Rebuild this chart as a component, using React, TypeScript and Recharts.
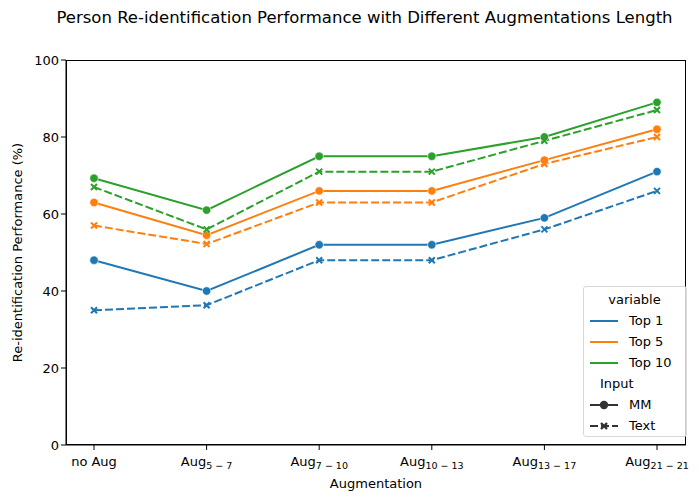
import React from "react"
import { LineChart, Line, XAxis, YAxis } from "recharts"

const categories = ["no Aug", "Aug|5 − 7", "Aug|7 − 10", "Aug|10 − 13", "Aug|13 − 17", "Aug|21 − 21"]

const top1MM = [48, 40, 52, 52, 59, 71]
const top1Text = [35, 36.3, 48, 48, 56, 66]
const top5MM = [63, 54.5, 66, 66, 74, 82]
const top5Text = [57, 52.2, 63, 63, 73, 80]
const top10MM = [69.3, 61, 75, 75, 80, 89]
const top10Text = [67, 56, 71, 71, 79, 87]

const yTicks = [0, 20, 40, 60, 80, 100]

const data = categories.map((c, i) => ({
  cat: c,
  top1MM: top1MM[i],
  top1Text: top1Text[i],
  top5MM: top5MM[i],
  top5Text: top5Text[i],
  top10MM: top10MM[i],
  top10Text: top10Text[i],
}))

const BLUE = "#1f77b4"
const ORANGE = "#ff7f0e"
const GREEN = "#2ca02c"
const FONT = "DejaVu Sans, sans-serif"

const dotCircle = (color: string) => (props: any) => {
  const { cx, cy, index } = props
  return <circle key={index} cx={cx} cy={cy} r={4.2} fill={color} stroke="white" strokeWidth={0.6} />
}

const dotX = (color: string) => (props: any) => {
  const { cx, cy, index } = props
  const s = 3
  return (
    <path
      key={index}
      d={`M${cx - s},${cy - s}L${cx + s},${cy + s}M${cx - s},${cy + s}L${cx + s},${cy - s}`}
      stroke={color}
      strokeWidth={2}
      fill="none"
    />
  )
}

const XTick = (props: any) => {
  const { x, y, payload } = props
  const [main, sub] = String(payload.value).split("|")
  return (
    <text x={x} y={y + 14} textAnchor="middle" fontSize={13} fill="#000" fontFamily={FONT}>
      <tspan>{main}</tspan>
      {sub && (
        <tspan fontSize={9.5} dy={3}>
          {sub}
        </tspan>
      )}
    </text>
  )
}

const series = [
  { key: "top1MM", color: BLUE, dash: false },
  { key: "top1Text", color: BLUE, dash: true },
  { key: "top5MM", color: ORANGE, dash: false },
  { key: "top5Text", color: ORANGE, dash: true },
  { key: "top10MM", color: GREEN, dash: false },
  { key: "top10Text", color: GREEN, dash: true },
]

function Legend() {
  const row = { display: "flex", alignItems: "center", height: 21 } as const
  const sw = (color: string) => (
    <svg width={30} height={10} style={{ marginRight: 10 }}>
      <line x1={1} y1={5} x2={29} y2={5} stroke={color} strokeWidth={2} />
    </svg>
  )
  return (
    <div
      style={{
        position: "absolute",
        left: 583,
        top: 286,
        width: 104,
        height: 151,
        border: "1px solid #d8d8d8",
        borderRadius: 3,
        background: "rgba(255,255,255,0.8)",
        fontFamily: FONT,
        fontSize: 13,
        boxSizing: "border-box",
        padding: "2px 0 0 5px",
      }}
    >
      <div style={{ ...row, justifyContent: "center", paddingRight: 6 }}>variable</div>
      <div style={row}>{sw(BLUE)}Top 1</div>
      <div style={row}>{sw(ORANGE)}Top 5</div>
      <div style={row}>{sw(GREEN)}Top 10</div>
      <div style={{ ...row, paddingLeft: 11 }}>Input</div>
      <div style={row}>
        <svg width={30} height={10} style={{ marginRight: 10 }}>
          <line x1={1} y1={5} x2={29} y2={5} stroke="#333" strokeWidth={2} />
          <circle cx={15} cy={5} r={4.2} fill="#333" />
        </svg>
        MM
      </div>
      <div style={row}>
        <svg width={30} height={10} style={{ marginRight: 10 }}>
          <line x1={1} y1={5} x2={29} y2={5} stroke="#333" strokeWidth={2} strokeDasharray="8 3" />
          <path d="M12,2L18,8M12,8L18,2" stroke="#333" strokeWidth={2.4} />
        </svg>
        Text
      </div>
    </div>
  )
}

export default function App() {
  return (
    <div style={{ position: "absolute", left: 0, top: 0, width: 699, height: 501, background: "#fff", fontFamily: FONT }}>
      <div
        style={{
          position: "absolute",
          left: 0,
          width: 699,
          top: 8,
          textAlign: "center",
          fontSize: 16.5,
          paddingLeft: 30,
          boxSizing: "border-box",
        }}
      >
        Person Re-identification Performance with Different Augmentations Length
      </div>
      <LineChart width={699} height={501} data={data} margin={{ top: 60, right: 13, bottom: 10, left: 10 }}>
        <XAxis
          dataKey="cat"
          tick={<XTick />}
          tickSize={5}
          stroke="#000"
          padding={{ left: 28, right: 29 }}
          height={46}
          interval={0}
          label={{ value: "Augmentation", position: "insideBottom", offset: 3, fontSize: 13, fill: "#000", fontFamily: FONT }}
        />
        <YAxis
          domain={[0, 100]}
          ticks={yTicks}
          width={56}
          tickSize={5}
          stroke="#000"
          tick={{ fontSize: 13, fill: "#000", fontFamily: FONT }}
          label={{
            value: "Re-identification Performance (%)",
            angle: -90,
            position: "insideLeft",
            offset: 7,
            style: { textAnchor: "middle", fontSize: 13, fill: "#000", fontFamily: FONT },
          }}
        />
        {series.map((s) => (
          <Line
            key={s.key}
            dataKey={s.key}
            stroke={s.color}
            strokeWidth={2}
            strokeDasharray={s.dash ? "8 3" : undefined}
            dot={s.dash ? dotX(s.color) : dotCircle(s.color)}
            activeDot={false}
            isAnimationActive={false}
          />
        ))}
      </LineChart>
      <div
        style={{
          position: "absolute",
          left: 66,
          top: 60,
          width: 620,
          height: 385,
          border: "1px solid #000",
          boxSizing: "border-box",
          pointerEvents: "none",
        }}
      />
      <Legend />
    </div>
  )
}
